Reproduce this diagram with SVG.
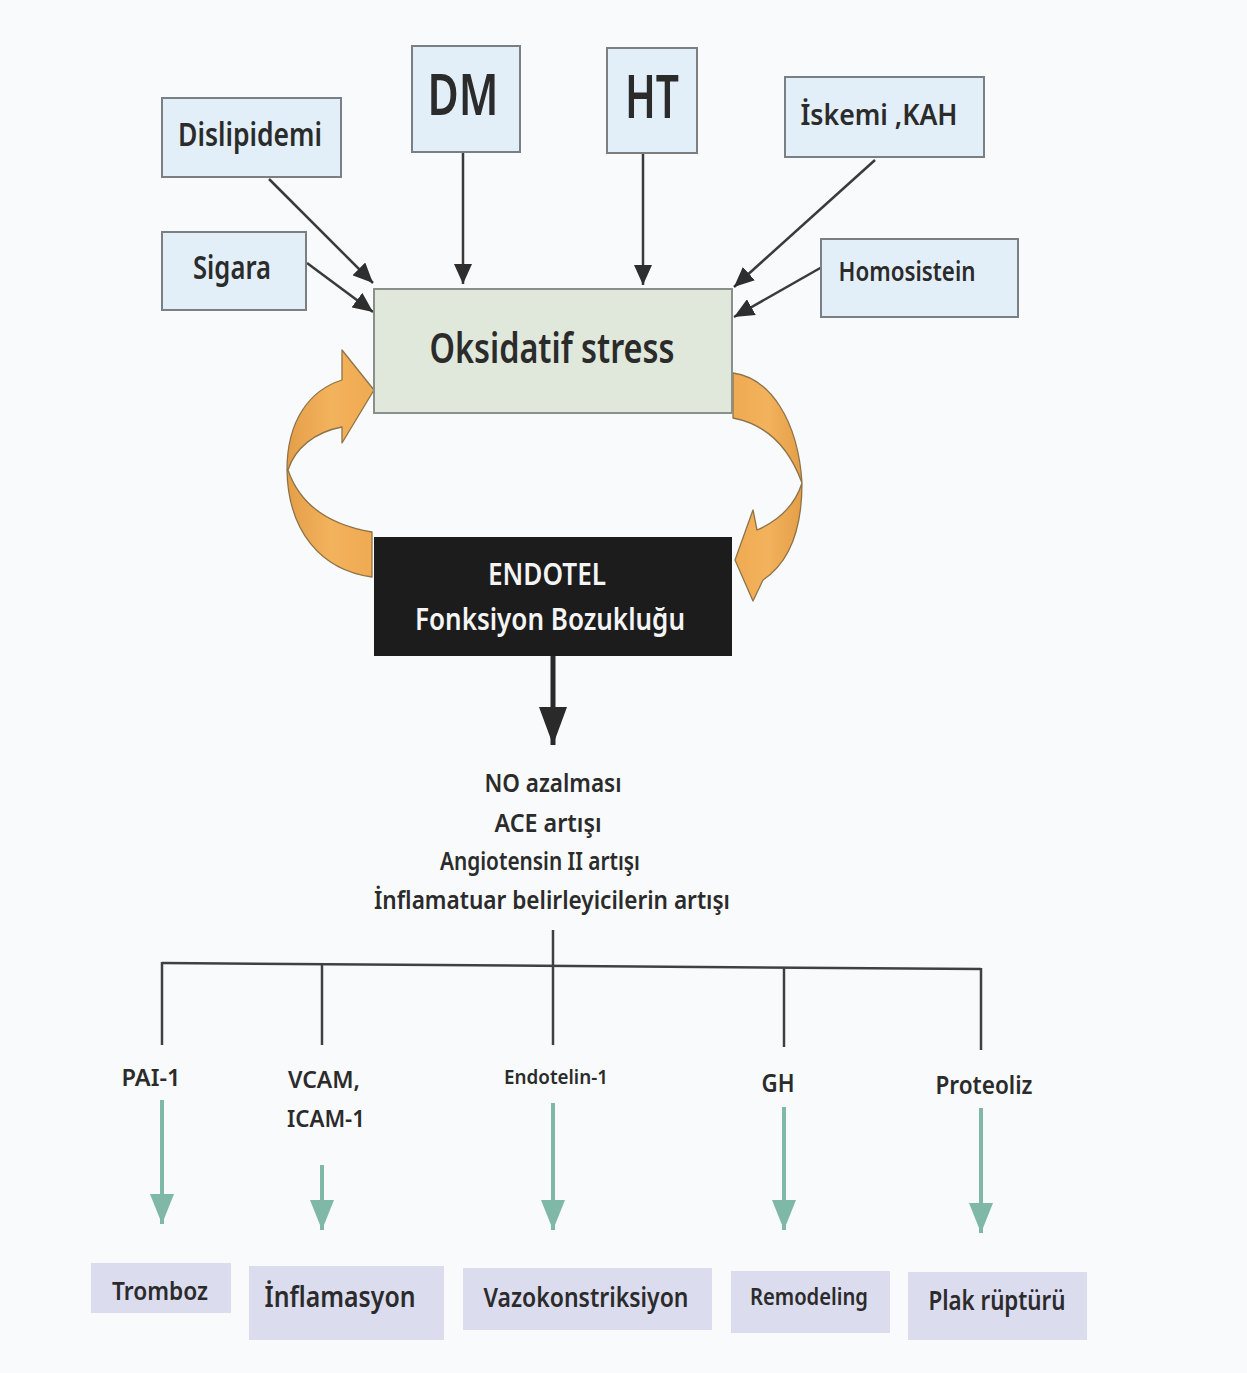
<svg xmlns="http://www.w3.org/2000/svg" width="1247" height="1373" viewBox="0 0 1247 1373">
<defs>
<style>
.t{font-family:"Noto Sans","Open Sans","Liberation Sans",sans-serif;font-weight:600;fill:#2b2b2b;text-anchor:middle}
.w{fill:#f4f4f4}
.box{fill:#e3eff8;stroke:#7a7f84;stroke-width:2}
.res{fill:#dcdcef}
.ln{stroke:#3a3a3a;stroke-width:2.5;fill:none}
.tree{stroke:#404040;stroke-width:2.5;fill:none}
.gr{stroke:#80b8a7;stroke-width:4;fill:none}
.loop{stroke:#8f7348;stroke-width:1.3;stroke-linejoin:round}
</style>
<marker id="ah" markerUnits="userSpaceOnUse" markerWidth="22" markerHeight="18" refX="20" refY="9" orient="auto">
<path d="M0,0 L20,9 L0,18 Z" fill="#2e2e2e"/>
</marker>
<marker id="ahBig" markerUnits="userSpaceOnUse" markerWidth="40" markerHeight="30" refX="38" refY="14" orient="auto">
<path d="M0,0 L38,14 L0,28 Z" fill="#2a2a2a"/>
</marker>
<marker id="ahG" markerUnits="userSpaceOnUse" markerWidth="32" markerHeight="26" refX="30" refY="12" orient="auto">
<path d="M0,0 L30,12 L0,24 Z" fill="#80b8a7"/>
</marker>
<linearGradient id="orL" x1="0" y1="0" x2="1" y2="0">
<stop offset="0" stop-color="#e49e48"/>
<stop offset="0.5" stop-color="#f3b25c"/>
<stop offset="1" stop-color="#efaa52"/>
</linearGradient>
<linearGradient id="orR" x1="1" y1="0" x2="0" y2="0">
<stop offset="0" stop-color="#e49e48"/>
<stop offset="0.5" stop-color="#f3b25c"/>
<stop offset="1" stop-color="#efaa52"/>
</linearGradient>
</defs>
<rect width="1247" height="1373" fill="#f8fafb"/>

<g id="connectors">
<line class="ln" x1="269" y1="179" x2="373" y2="283" marker-end="url(#ah)"/>
<line class="ln" x1="307" y1="263" x2="373" y2="312" marker-end="url(#ah)"/>
<line class="ln" x1="463" y1="152" x2="463" y2="284" marker-end="url(#ah)"/>
<line class="ln" x1="643" y1="153" x2="643" y2="285" marker-end="url(#ah)"/>
<line class="ln" x1="875" y1="160" x2="734" y2="287" marker-end="url(#ah)"/>
<line class="ln" x1="822" y1="267" x2="734" y2="317" marker-end="url(#ah)"/>
<path id="loopLeft" class="loop" d="M372,577 C320,570 288,530 287,470 C287,420 310,390 342,380 L342,350 L374,390 L342,443 L342,427 C315,432 295,448 288,470 C300,505 330,525 372,532 Z" fill="url(#orL)"/>
<path id="loopRight" class="loop" d="M733,373 C770,378 798,420 802,483 C802,530 790,562 763,580 L753,601 L735,560 L753,510 L757,530 C780,520 795,505 802,483 C790,450 770,425 733,418 Z" fill="url(#orR)"/>
<line x1="553" y1="656" x2="553" y2="745" stroke="#2a2a2a" stroke-width="5" marker-end="url(#ahBig)"/>
<line class="tree" x1="553" y1="930" x2="553" y2="1045"/>
<line class="tree" x1="162" y1="963" x2="981" y2="969"/>
<line class="tree" x1="162" y1="962" x2="162" y2="1045"/>
<line class="tree" x1="322" y1="964" x2="322" y2="1045"/>
<line class="tree" x1="784" y1="967" x2="784" y2="1047"/>
<line class="tree" x1="981" y1="968" x2="981" y2="1050"/>
<line class="gr" x1="162" y1="1100" x2="162" y2="1224" marker-end="url(#ahG)"/>
<line class="gr" x1="322" y1="1165" x2="322" y2="1230" marker-end="url(#ahG)"/>
<line class="gr" x1="553" y1="1103" x2="553" y2="1230" marker-end="url(#ahG)"/>
<line class="gr" x1="784" y1="1107" x2="784" y2="1230" marker-end="url(#ahG)"/>
<line class="gr" x1="981" y1="1108" x2="981" y2="1233" marker-end="url(#ahG)"/>
</g>

<g id="dislipidemi"><rect class="box" x="162" y="98" width="179" height="79"/><text class="t" x="250" y="146" font-size="33" textLength="144" lengthAdjust="spacingAndGlyphs">Dislipidemi</text></g>
<g id="sigara"><rect class="box" x="162" y="232" width="144" height="78"/><text class="t" x="232" y="279" font-size="32" textLength="78" lengthAdjust="spacingAndGlyphs">Sigara</text></g>
<g id="dm"><rect class="box" x="412" y="46" width="108" height="106"/><text class="t" x="463" y="115" font-size="58" textLength="71" lengthAdjust="spacingAndGlyphs">DM</text></g>
<g id="ht"><rect class="box" x="607" y="48" width="90" height="105"/><text class="t" x="652" y="118" font-size="60" textLength="54" lengthAdjust="spacingAndGlyphs">HT</text></g>
<g id="iskemi"><rect class="box" x="785" y="77" width="199" height="80"/><text class="t" x="879" y="125" font-size="29" textLength="157" lengthAdjust="spacingAndGlyphs">İskemi ,KAH</text></g>
<g id="homosistein"><rect class="box" x="821" y="239" width="197" height="78"/><text class="t" x="907" y="281" font-size="27" textLength="137" lengthAdjust="spacingAndGlyphs">Homosistein</text></g>
<g id="oksidatif"><rect x="374" y="289" width="358" height="124" fill="#dfe8da" stroke="#8a8f8a" stroke-width="2"/><text class="t" x="552" y="363" font-size="41" textLength="245" lengthAdjust="spacingAndGlyphs">Oksidatif stress</text></g>
<g id="endotel"><rect x="374" y="537" width="358" height="119" fill="#1c1c1c"/><text class="t w" x="547" y="585" font-size="30" textLength="118" lengthAdjust="spacingAndGlyphs">ENDOTEL</text><text class="t w" x="550" y="630" font-size="30" textLength="270" lengthAdjust="spacingAndGlyphs">Fonksiyon Bozukluğu</text></g>
<g id="effects">
<text class="t" x="553" y="792" font-size="26" textLength="137" lengthAdjust="spacingAndGlyphs">NO azalması</text>
<text class="t" x="548" y="832" font-size="26" textLength="107" lengthAdjust="spacingAndGlyphs">ACE artışı</text>
<text class="t" x="540" y="870" font-size="26" textLength="200" lengthAdjust="spacingAndGlyphs">Angiotensin II artışı</text>
<text class="t" x="552" y="909" font-size="26" textLength="356" lengthAdjust="spacingAndGlyphs">İnflamatuar belirleyicilerin artışı</text>
</g>
<g id="pai1"><text class="t" x="151" y="1086" font-size="24" textLength="59" lengthAdjust="spacingAndGlyphs">PAI-1</text></g>
<g id="vcam"><text class="t" x="324" y="1088" font-size="24" textLength="72" lengthAdjust="spacingAndGlyphs">VCAM,</text><text class="t" x="326" y="1127" font-size="24" textLength="78" lengthAdjust="spacingAndGlyphs">ICAM-1</text></g>
<g id="endotelin1"><text class="t" x="556" y="1084" font-size="20" textLength="104" lengthAdjust="spacingAndGlyphs">Endotelin-1</text></g>
<g id="gh"><text class="t" x="778" y="1092" font-size="26" textLength="33" lengthAdjust="spacingAndGlyphs">GH</text></g>
<g id="proteoliz"><text class="t" x="984" y="1094" font-size="26" textLength="97" lengthAdjust="spacingAndGlyphs">Proteoliz</text></g>
<g id="tromboz"><rect class="res" x="91" y="1263" width="140" height="50"/><text class="t" x="160" y="1300" font-size="25" textLength="96" lengthAdjust="spacingAndGlyphs">Tromboz</text></g>
<g id="inflamasyon"><rect class="res" x="249" y="1266" width="195" height="74"/><text class="t" x="340" y="1307" font-size="28" textLength="151" lengthAdjust="spacingAndGlyphs">İnflamasyon</text></g>
<g id="vazokonstriksiyon"><rect class="res" x="463" y="1268" width="249" height="62"/><text class="t" x="586" y="1307" font-size="27" textLength="205" lengthAdjust="spacingAndGlyphs">Vazokonstriksiyon</text></g>
<g id="remodeling"><rect class="res" x="731" y="1271" width="159" height="62"/><text class="t" x="809" y="1305" font-size="23" textLength="118" lengthAdjust="spacingAndGlyphs">Remodeling</text></g>
<g id="plak"><rect class="res" x="908" y="1272" width="179" height="68"/><text class="t" x="997" y="1310" font-size="27" textLength="137" lengthAdjust="spacingAndGlyphs">Plak rüptürü</text></g>
</svg>
